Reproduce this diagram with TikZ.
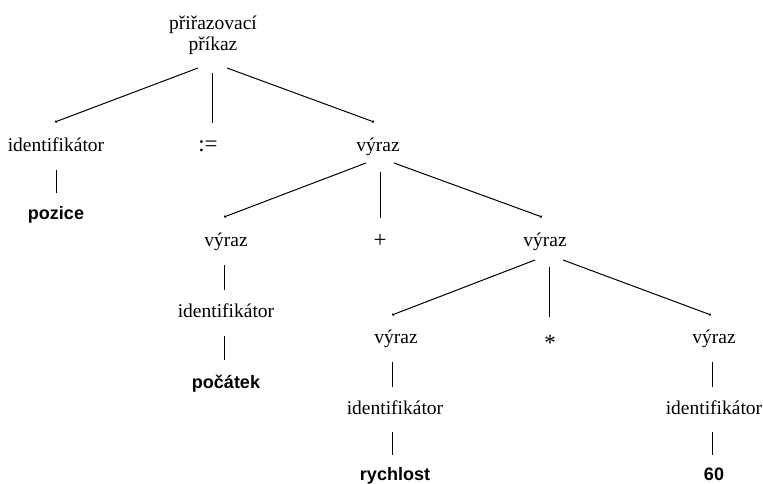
\documentclass[tikz,border=0pt]{standalone}
\usepackage{fontspec}
\setmainfont{Liberation Serif}
\newfontfamily\termsans{Liberation Sans}
\usetikzlibrary{arrows.meta}
\begin{document}
\begin{tikzpicture}[x=1pt,y=-1pt,
  every node/.style={inner sep=0pt, text height=12pt, text depth=4pt,
    font=\fontsize{19.5}{21}\selectfont},
  term/.style={font=\fontsize{18}{20}\termsans\bfseries},
  sym/.style={font=\fontsize{23}{24}\selectfont},
  edge/.style={line width=1pt, -{Circle[length=2.2pt]}},
  stem/.style={line width=1pt}]
\useasboundingbox (0,0) rectangle (763,484);
% nodes
\node[align=center, text height=, text depth=] (root) at (213,35) {přiřazovací\\příkaz};
\node[sym] (asg) at (208,147) {:=};
\node (id1) at (56,147) {identifikátor};
\node (e1) at (378,147) {výraz};
\node[term] (pozice) at (56,215) {pozice};
\node (e2) at (226,242) {výraz};
\node[sym] (plus) at (380,243) {+};
\node (e3) at (545,242) {výraz};
\node (id2) at (226,313) {identifikátor};
\node[term] (pocatek) at (226,384) {počátek};
\node (e4) at (396,339) {výraz};
\node[sym] (times) at (550,346) {*};
\node (e5) at (714,339) {výraz};
\node (id3) at (395,410) {identifikátor};
\node[term] (rych) at (395,476) {rychlost};
\node (id4) at (714,410) {identifikátor};
\node[term] (sixty) at (714,476) {60};
% connectors from root
\draw[edge] ([shift={(-15,33)}]root.center) -- ([shift={(-1,-25)}]id1.center);
\draw[stem] ([shift={(-1,38)}]root.center) -- ([shift={(4,-24)}]asg.center);
\draw[edge] ([shift={(14,33)}]root.center) -- ([shift={(-4,-25)}]e1.center);
\draw[stem] ([shift={(0,23)}]id1.center) -- ([shift={(0,-22)}]pozice.center);
% from e1
\draw[edge] ([shift={(-12,16)}]e1.center) -- ([shift={(-2,-25)}]e2.center);
\draw[stem] ([shift={(2,25)}]e1.center) -- ([shift={(0,-25)}]plus.center);
\draw[edge] ([shift={(16,16)}]e1.center) -- ([shift={(-3,-25)}]e3.center);
\draw[stem] ([shift={(-2,23)}]e2.center) -- ([shift={(-2,-23)}]id2.center);
\draw[stem] ([shift={(-2,23)}]id2.center) -- ([shift={(-2,-24)}]pocatek.center);
% from e3
\draw[edge] ([shift={(-10,18)}]e3.center) -- ([shift={(-4,-24)}]e4.center);
\draw[stem] ([shift={(4,25)}]e3.center) -- ([shift={(-1,-29)}]times.center);
\draw[edge] ([shift={(18,18)}]e3.center) -- ([shift={(-3,-24)}]e5.center);
\draw[stem] ([shift={(-4,23)}]e4.center) -- ([shift={(-3,-23)}]id3.center);
\draw[stem] ([shift={(-3,22)}]id3.center) -- ([shift={(-3,-21)}]rych.center);
\draw[stem] ([shift={(-2,23)}]e5.center) -- ([shift={(-2,-23)}]id4.center);
\draw[stem] ([shift={(-2,22)}]id4.center) -- ([shift={(-2,-21)}]sixty.center);
\end{tikzpicture}
\end{document}
